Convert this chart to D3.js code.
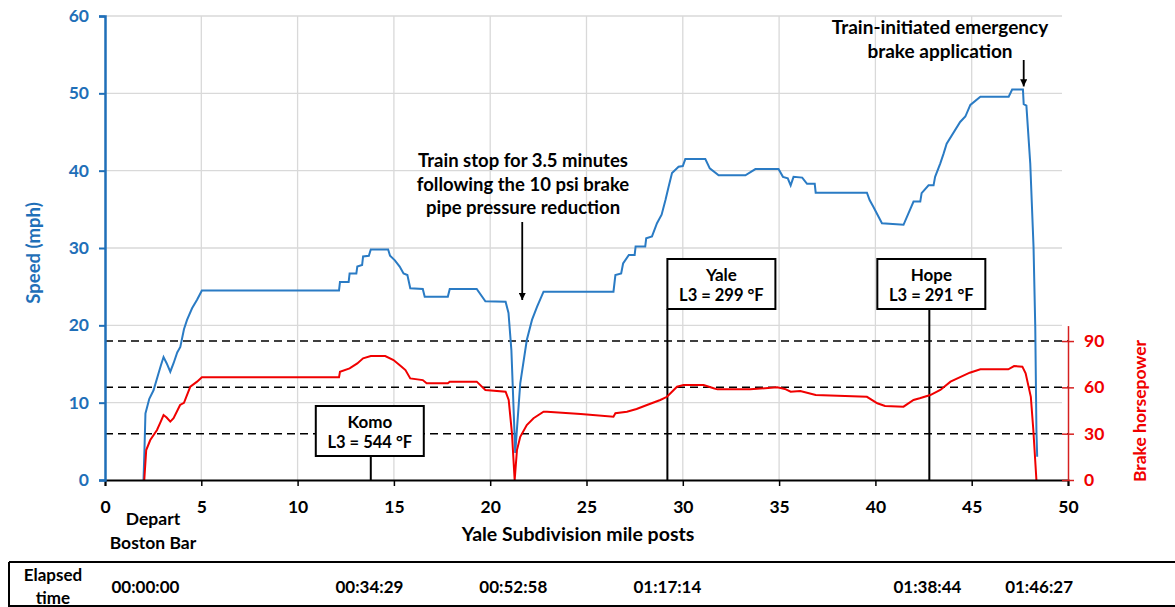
<!DOCTYPE html>
<html>
<head>
<meta charset="utf-8">
<script src="https://cdn.jsdelivr.net/npm/d3@7"></script>
<style>
  body { margin: 0; background: #fff; }
  svg text { font-family: Lato, "Open Sans", sans-serif; font-weight: bold; }
</style>
</head>
<body>
<div id="chart"></div>
<script>
// speed trace, [mile post, mph]
const speedData = [
  [2.0,0],[2.05,4],[2.1,8.6],[2.3,10.5],[2.52,11.6],[2.78,13.8],[2.9,14.8],[3.04,15.9],[3.2,15.1],
  [3.39,14.0],[3.56,15.1],[3.75,16.5],[3.91,17.2],[4.1,19.5],[4.26,20.7],[4.52,22.2],[4.78,23.3],
  [5.03,24.5],[12.15,24.5],[12.2,25.6],[12.65,25.6],[12.7,26.7],[13.05,26.7],[13.1,27.6],[13.35,27.8],
  [13.4,28.9],[13.7,29.0],[13.8,29.8],[14.7,29.8],[14.8,29.0],[15.05,28.4],[15.3,27.6],[15.5,26.7],
  [15.7,26.5],[15.85,24.8],[16.5,24.7],[16.6,23.7],[17.8,23.7],[17.9,24.7],[19.3,24.7],[19.75,23.1],
  [20.8,23.06],[20.95,21.6],[21.1,16.8],[21.3,3.5],[21.56,12.5],[21.9,18.1],[22.17,20.7],[22.43,22.4],
  [22.77,24.35],[26.4,24.35],[26.5,26.5],[26.8,26.7],[26.9,28.0],[27.2,29.1],[27.5,29.1],[27.55,30.2],
  [28.05,30.2],[28.1,31.25],[28.4,31.5],[28.66,33.2],[28.9,34.3],[29.1,36.2],[29.26,37.9],[29.44,39.7],
  [29.78,40.5],[30.0,40.6],[30.13,41.5],[31.17,41.5],[31.4,40.3],[31.86,39.4],[33.25,39.4],[33.77,40.2],
  [34.97,40.2],[35.2,39.2],[35.45,39.0],[35.6,38.1],[35.75,39.2],[36.2,39.1],[36.45,38.3],[36.85,38.3],
  [36.9,37.15],[39.56,37.15],[39.7,36.2],[39.9,35.3],[40.34,33.2],[41.46,33.0],[41.98,36.0],[42.33,36.0],
  [42.4,37.1],[42.76,38.1],[43.02,38.1],[43.1,39.2],[43.37,40.95],[43.54,42.2],[43.7,43.5],[44.4,46.3],
  [44.67,47.0],[44.93,48.5],[45.45,49.57],[46.92,49.57],[47.1,50.5],[47.66,50.5],[47.7,48.6],[47.84,48.4],
  [48.04,40.95],[48.21,30.2],[48.3,19.8],[48.36,6.5],[48.4,3]
];

// brake horsepower trace, [mile post, hp]
const hpData = [
  [2.04,0],[2.14,19.4],[2.35,25.9],[2.7,32.4],[2.9,38],[3.04,42.1],[3.2,40.5],[3.39,37.8],[3.56,40],
  [3.9,48.6],[4.1,50],[4.43,60.4],[4.78,63.7],[5.03,66.5],[12.15,66.5],[12.2,70.1],[12.7,72.3],
  [13.1,75.5],[13.4,78.8],[13.8,80.3],[14.55,80.3],[14.98,77.7],[15.4,73.4],[15.6,71.2],[15.85,65.8],
  [16.5,64.7],[16.7,62.6],[17.8,62.6],[17.9,63.7],[19.3,63.7],[19.75,58.3],[20.8,57.2],[20.96,51.8],
  [21.13,30.2],[21.27,0],[21.39,19.4],[21.56,28],[21.9,35.6],[22.25,40],[22.77,44.2],[22.95,44.2],
  [24.7,42.7],[26.4,41],[26.5,43.2],[27.1,44.2],[27.6,46],[28.14,48.6],[28.83,51.8],[29.18,53.9],
  [29.7,60.4],[30.04,61.5],[31.08,61.5],[31.6,59.4],[31.8,58.7],[33.5,58.7],[34.9,60.0],[35.3,59],
  [35.6,57.2],[36.1,57.7],[36.9,55.0],[39.56,53.9],[40.1,49.7],[40.5,47.9],[41.46,47.5],[41.98,51.8],
  [42.3,52.9],[42.85,55.0],[43.37,58.3],[43.9,63.7],[44.9,69.5],[45.45,71.7],[46.9,71.7],[47.2,73.8],
  [47.63,73.4],[47.8,69.1],[48.07,53.9],[48.2,32.4],[48.36,0]
];

const xTicks = [0,5,10,15,20,25,30,35,40,45,50];
const speedTicks = [0,10,20,30,40,50,60];
const hpTicks = [0,30,60,90];
const hpDashed = [30,60,90];

// stations with L3 temperatures
const stationNames = ["Komo", "Yale", "Hope"];
const stationTemps = ["L3 = 544 °F", "L3 = 299 °F", "L3 = 291 °F"];
const stationMiles = [13.8, 29.2, 42.8];

// elapsed time row
const elapsedTimes = ["00:00:00", "00:34:29", "00:52:58", "01:17:14", "01:38:44", "01:46:27"];
const elapsedMiles = [2.1, 13.73, 21.2, 29.2, 42.7, 48.5];

// event markers
const emergencyMile = 47.7, emergencySpeed = 50.5;
const stopMile = 21.3;

function drawChart() {
  const width = 1175, height = 607;
  const blue = "#1f6fb8", blueLine = "#2a7bc4", red = "#f00000", redAxis = "#d62020";

  const x = d3.scaleLinear().domain([0, 50]).range([105, 1068]);
  const yS = d3.scaleLinear().domain([0, 60]).range([480, 16]);
  const yH = d3.scaleLinear().domain([0, 100]).range([480, 325.6]);

  const svg = d3.select("#chart").append("svg")
      .attr("width", width)
      .attr("height", height);

  svg.append("defs").append("marker")
      .attr("id", "arrow")
      .attr("viewBox", "0 0 10 10")
      .attr("refX", 10).attr("refY", 5)
      .attr("markerWidth", 4).attr("markerHeight", 4)
      .attr("orient", "auto")
    .append("path")
      .attr("d", "M0,0 L10,5 L0,10 z")
      .attr("fill", "#000");

  // grid
  svg.append("g").selectAll("line")
    .data(xTicks.filter(d => d > 0 && d < 50))
    .join("line")
      .attr("x1", d => x(d)).attr("x2", d => x(d))
      .attr("y1", yS(60)).attr("y2", yS(0))
      .attr("stroke", "#d9d9d9").attr("stroke-width", 1.3);

  svg.append("g").selectAll("line")
    .data(speedTicks.filter(d => d > 0))
    .join("line")
      .attr("x1", x(0)).attr("x2", x(50) - 6)
      .attr("y1", d => yS(d)).attr("y2", d => yS(d))
      .attr("stroke", "#d9d9d9").attr("stroke-width", 1.3);

  // dashed horsepower reference lines
  svg.append("g").selectAll("line")
    .data(hpDashed)
    .join("line")
      .attr("x1", x(0)).attr("x2", x(50))
      .attr("y1", d => yH(d)).attr("y2", d => yH(d))
      .attr("stroke", "#000").attr("stroke-width", 1.5)
      .attr("stroke-dasharray", "8,5");

  // station boxes
  const boxW = 108, boxH = 50;
  const boxTop = [406, 259, 259];
  const boxShift = [-55, 0, -52];
  stationNames.forEach((name, i) => {
    const sx = x(stationMiles[i]);
    const bx = sx + boxShift[i];
    const g = svg.append("g");
    g.append("line")
      .attr("x1", sx).attr("x2", sx)
      .attr("y1", boxTop[i] + boxH).attr("y2", yS(0))
      .attr("stroke", "#000").attr("stroke-width", 2);
    g.append("rect")
      .attr("x", bx).attr("y", boxTop[i])
      .attr("width", boxW).attr("height", boxH)
      .attr("fill", "#fff").attr("stroke", "#000").attr("stroke-width", 2);
    g.append("text")
      .attr("x", bx + boxW / 2).attr("y", boxTop[i] + 15)
      .attr("text-anchor", "middle").attr("dominant-baseline", "central")
      .style("font-size", "17px").text(name);
    g.append("text")
      .attr("x", bx + boxW / 2).attr("y", boxTop[i] + 36)
      .attr("text-anchor", "middle").attr("dominant-baseline", "central")
      .style("font-size", "16.5px").text(stationTemps[i]);
  });

  // series
  const line = (yScale) => d3.line().x(d => x(d[0])).y(d => yScale(d[1]));

  svg.append("path")
      .datum(speedData)
      .attr("d", line(yS))
      .attr("fill", "none")
      .attr("stroke", blueLine)
      .attr("stroke-width", 2);

  svg.append("path")
      .datum(hpData)
      .attr("d", line(yH))
      .attr("fill", "none")
      .attr("stroke", red)
      .attr("stroke-width", 2);

  // x axis
  const xAxis = svg.append("g")
      .attr("transform", `translate(0, ${yS(0)})`)
      .call(d3.axisBottom(x).tickValues(xTicks).tickSize(6).tickPadding(15).tickFormat(d3.format("d")));
  xAxis.select(".domain").attr("stroke", "#000").attr("stroke-width", 2);
  xAxis.selectAll(".tick line").attr("stroke", "#000").attr("stroke-width", 1.5);
  xAxis.selectAll(".tick text").style("font-size", "17.5px").attr("fill", "#000")
      .style("font-family", "Lato, sans-serif").style("font-weight", "bold");

  // left speed axis
  const yAxisL = svg.append("g")
      .attr("transform", `translate(${x(0)}, 0)`)
      .call(d3.axisLeft(yS).tickValues(speedTicks).tickSize(6).tickPadding(10));
  yAxisL.select(".domain").attr("stroke", blue).attr("stroke-width", 2.5);
  yAxisL.selectAll(".tick line").attr("stroke", blue).attr("stroke-width", 2);
  yAxisL.selectAll(".tick text").style("font-size", "17.5px").attr("fill", blue)
      .style("font-family", "Lato, sans-serif").style("font-weight", "bold");

  // right horsepower axis
  const yAxisR = svg.append("g")
      .attr("transform", `translate(${x(50)}, 0)`)
      .call(d3.axisRight(yH).tickValues(hpTicks).tickSizeInner(6).tickSizeOuter(0).tickPadding(10));
  yAxisR.select(".domain").attr("stroke", redAxis).attr("stroke-width", 1.5);
  yAxisR.selectAll(".tick line").attr("stroke", redAxis).attr("stroke-width", 1.5).attr("x1", -6);
  yAxisR.selectAll(".tick text").style("font-size", "17.5px").attr("fill", red)
      .style("font-family", "Lato, sans-serif").style("font-weight", "bold");

  // axis titles
  svg.append("text")
      .attr("transform", `translate(33, 253) rotate(-90)`)
      .attr("text-anchor", "middle").attr("dominant-baseline", "central")
      .attr("fill", blue).style("font-size", "18.5px")
      .text("Speed (mph)");

  svg.append("text")
      .attr("transform", `translate(1139, 411) rotate(-90)`)
      .attr("text-anchor", "middle").attr("dominant-baseline", "central")
      .attr("fill", red).style("font-size", "17.5px")
      .text("Brake horsepower");

  svg.append("text")
      .attr("x", 578).attr("y", 533)
      .attr("text-anchor", "middle").attr("dominant-baseline", "central")
      .style("font-size", "19.5px")
      .text("Yale Subdivision mile posts");

  svg.append("text")
      .attr("x", 153).attr("y", 518)
      .attr("text-anchor", "middle").attr("dominant-baseline", "central")
      .style("font-size", "17.5px").text("Depart");
  svg.append("text")
      .attr("x", 153).attr("y", 542)
      .attr("text-anchor", "middle").attr("dominant-baseline", "central")
      .style("font-size", "17.5px").text("Boston Bar");

  // annotations
  svg.append("text")
      .attr("x", 940).attr("y", 26)
      .attr("text-anchor", "middle").attr("dominant-baseline", "central")
      .style("font-size", "19px").text("Train-initiated emergency");
  svg.append("text")
      .attr("x", 940).attr("y", 50)
      .attr("text-anchor", "middle").attr("dominant-baseline", "central")
      .style("font-size", "19px").text("brake application");
  svg.append("line")
      .attr("x1", x(emergencyMile)).attr("x2", x(emergencyMile))
      .attr("y1", 60).attr("y2", yS(emergencySpeed) - 3)
      .attr("stroke", "#000").attr("stroke-width", 1.8)
      .attr("marker-end", "url(#arrow)");

  const stopLines = ["Train stop for 3.5 minutes", "following the 10 psi brake", "pipe pressure reduction"];
  svg.append("g").selectAll("text")
    .data(stopLines)
    .join("text")
      .attr("x", 523).attr("y", (d, i) => 160 + i * 23.5)
      .attr("text-anchor", "middle").attr("dominant-baseline", "central")
      .style("font-size", "18.5px").text(d => d);
  svg.append("line")
      .attr("x1", x(stopMile) + 7).attr("x2", x(stopMile) + 7)
      .attr("y1", 222).attr("y2", 300)
      .attr("stroke", "#000").attr("stroke-width", 1.8)
      .attr("marker-end", "url(#arrow)");

  // elapsed time table
  const tbl = svg.append("g");
  tbl.append("line").attr("x1", 9).attr("x2", width).attr("y1", 562).attr("y2", 562)
      .attr("stroke", "#000").attr("stroke-width", 2);
  tbl.append("line").attr("x1", 9).attr("x2", width).attr("y1", 606).attr("y2", 606)
      .attr("stroke", "#000").attr("stroke-width", 2);
  tbl.append("line").attr("x1", 9).attr("x2", 9).attr("y1", 562).attr("y2", 607)
      .attr("stroke", "#000").attr("stroke-width", 2);
  tbl.append("text").attr("x", 53).attr("y", 574)
      .attr("text-anchor", "middle").attr("dominant-baseline", "central")
      .style("font-size", "17px").text("Elapsed");
  tbl.append("text").attr("x", 53).attr("y", 597)
      .attr("text-anchor", "middle").attr("dominant-baseline", "central")
      .style("font-size", "17px").text("time");
  tbl.selectAll("text.time")
    .data(elapsedTimes)
    .join("text")
      .attr("class", "time")
      .attr("x", (d, i) => x(elapsedMiles[i]))
      .attr("y", 586)
      .attr("text-anchor", "middle").attr("dominant-baseline", "central")
      .style("font-size", "17px").text(d => d);
}

drawChart();
</script>
</body>
</html>
